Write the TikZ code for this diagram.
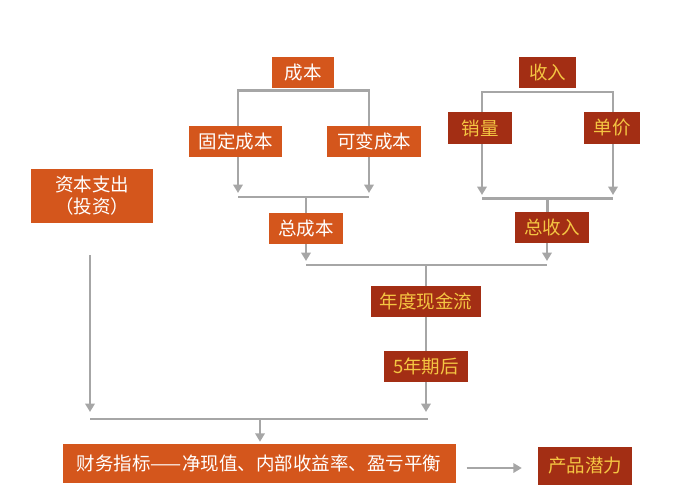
\documentclass[tikz,border=0pt]{standalone}
\usepackage{fontspec}
\setmainfont{Noto Sans CJK SC}
\usetikzlibrary{arrows.meta}
\definecolor{orgbox}{HTML}{D4561C}
\definecolor{redbox}{HTML}{A32E14}
\definecolor{goldtxt}{HTML}{F4C542}
\definecolor{lgray}{HTML}{A6A6A6}
\begin{document}
\begin{tikzpicture}[x=1pt,y=-1pt,
  boxbase/.style={inner sep=0pt, minimum height=31pt, anchor=center, font=\fontsize{18.5}{22}\selectfont, align=center},
  obox/.style={boxbase, fill=orgbox, text=white},
  rbox/.style={boxbase, fill=redbox, text=goldtxt},
  conn/.style={draw=lgray, line width=2.4pt},
  arr/.style={draw=lgray, line width=2.4pt, -{Triangle[length=8.5pt,width=9.5pt]}}]
\useasboundingbox (0,0) rectangle (683,503);
% nodes
\node[obox, minimum width=62pt] (cb) at (303,72.5) {成本};
\node[obox, minimum width=93pt] (gd) at (235.5,141.5) {固定成本};
\node[obox, minimum width=94pt] (kb) at (374,141.5) {可变成本};
\node[obox, minimum width=74pt] (zcb) at (306,228.5) {总成本};
\node[rbox, minimum width=57pt] (sr) at (547.5,72.5) {收入};
\node[rbox, minimum width=64pt, minimum height=32pt] (xl) at (480,128) {销量};
\node[rbox, minimum width=56pt, minimum height=32pt] (dj) at (612,128) {单价};
\node[rbox, minimum width=74pt] (zsr) at (552,227.5) {总收入};
\node[rbox, minimum width=110pt] (nd) at (426,301.5) {年度现金流};
\node[rbox, minimum width=84pt] (wn) at (426,366.5) {5年期后};
\node[obox, minimum width=122pt, minimum height=54pt] (zb) at (92,196) {资本支出\\（投资）};
\node[obox, minimum width=393pt, minimum height=39pt] (cw) at (259,463.5) {财务指标——净现值、内部收益率、盈亏平衡};
\node[rbox, minimum width=94pt, minimum height=38pt] (cp) at (585,466) {产品潜力};
% coordinates
\coordinate (cbL) at (238,90.5);
\coordinate (cbR) at (369,90.5);
\coordinate (a1) at (238,193);
\coordinate (a2) at (369,193);
\coordinate (m1L) at (238,197);
\coordinate (m1R) at (369,197);
\coordinate (srL) at (482,92);
\coordinate (srR) at (613,92);
\coordinate (a3) at (482,195);
\coordinate (a4) at (613,195);
\coordinate (m2L) at (482,198.5);
\coordinate (m2R) at (613,198.5);
\coordinate (a5) at (306,261);
\coordinate (a6) at (547,261);
\coordinate (m3L) at (306,265);
\coordinate (m3R) at (547,265);
\coordinate (zbS) at (90,255);
\coordinate (a7) at (90,412);
\coordinate (a8) at (426,412);
\coordinate (m4L) at (90,419);
\coordinate (m4R) at (428,419);
\coordinate (hy) at (0,468);
% cost branch
\draw[conn] (gd.north -| cbL) -- (cbL) -- (cbR) -- (kb.north -| cbR);
\draw[arr] (gd.south -| a1) -- (a1);
\draw[arr] (kb.south -| a2) -- (a2);
\draw[conn] (m1L) -- (m1R);
\draw[conn] (m1L -| zcb) -- (zcb.north);
% revenue branch
\draw[conn] (xl.north -| srL) -- (srL) -- (srR) -- (dj.north -| srR);
\draw[arr] (xl.south -| a3) -- (a3);
\draw[arr] (dj.south -| a4) -- (a4);
\draw[conn] (m2L) -- (m2R);
\draw[conn] (m2L -| sr) -- (zsr.north -| sr);
% totals
\draw[arr] (zcb.south) -- (a5);
\draw[arr] (zsr.south -| a6) -- (a6);
\draw[conn] (m3L) -- (m3R);
\draw[conn] (m3L -| nd) -- (nd.north);
\draw[conn] (nd.south) -- (wn.north);
% bottom
\draw[arr] (wn.south) -- (a8);
\draw[arr] (zbS) -- (a7);
\draw[conn] (m4L) -- (m4R);
\draw[arr, shorten >=2pt] (m4L -| 260,0) -- (cw.north -| 260,0);
\draw[arr, shorten <=11pt, shorten >=16pt] (cw.east |- hy) -- (cp.west |- hy);
\end{tikzpicture}
\end{document}
